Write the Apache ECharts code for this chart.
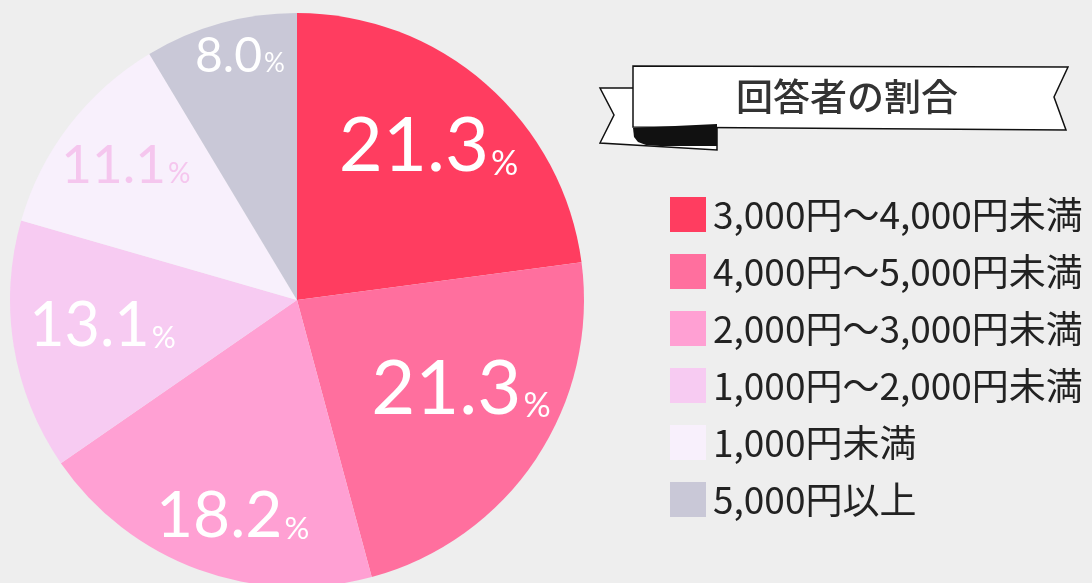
<!DOCTYPE html>
<html>
<head>
<meta charset="utf-8">
<script src="https://cdn.jsdelivr.net/npm/echarts@6/dist/echarts.min.js"></script>
<style>
  html, body { margin: 0; padding: 0; background: #eeeeee; }
  #main { width: 1092px; height: 583px; }
</style>
</head>
<body>
<div id="main"></div>
<script>
// 回答者の割合
const categories = [
  "3,000円〜4,000円未満",
  "4,000円〜5,000円未満",
  "2,000円〜3,000円未満",
  "1,000円〜2,000円未満",
  "1,000円未満",
  "5,000円以上",
];
const shares = [21.3, 21.3, 18.2, 13.1, 11.1, 8.0];

// styling
const sliceColors = ["#ff3d60", "#ff6f9e", "#ffa0d3", "#f7cbf2", "#f8f0fc", "#c9c8d7"];
const labelColors = ["#fff", "#fff", "#fff", "#fff", "#f5c6ee", "#fff"];
const numSizes = [76, 76, 64, 61, 53, 48];
const pctSizes = [34, 34, 31, 30, 28, 26];
const labelOffsets = [[35, -43], [42, 8], [-14, 79], [-50, 3], [-55, -45], [-18, -102]];

let element = document.getElementById("main");
let myChart = echarts.init(element);

let pieData = shares.map((v, i) => {
  return {
    name: categories[i],
    value: v,
    itemStyle: { color: sliceColors[i] },
    label: {
      offset: labelOffsets[i],
      rich: {
        n: {
          fontFamily: "Lato",
          fontSize: numSizes[i],
          color: labelColors[i],
          lineHeight: numSizes[i],
          verticalAlign: "bottom",
        },
        p: {
          fontFamily: "Lato",
          fontSize: pctSizes[i],
          color: labelColors[i],
          lineHeight: pctSizes[i],
          verticalAlign: "bottom",
          padding: [0, 0, 4, 2],
        },
      },
    },
  };
});

let option = {
  backgroundColor: "#eeeeee",
  animation: false,
  legend: {
    orient: "vertical",
    left: 665,
    top: 191,
    icon: "rect",
    itemWidth: 36,
    itemHeight: 35,
    itemGap: 20,
    selectedMode: false,
    data: categories,
    textStyle: {
      fontFamily: "Noto Sans CJK JP",
      fontSize: 37,
      lineHeight: 35,
      color: "#222",
      padding: [0, 0, 0, 2],
    },
  },
  graphic: [
    {
      // ribbon tail
      type: "polygon",
      shape: { points: [[600, 88], [717, 88], [717, 150], [600, 143], [614, 115]] },
      style: { fill: "#fff", stroke: "#111", lineWidth: 1.5 },
    },
    {
      type: "polygon",
      shape: { points: [[633, 66], [1068, 67], [1054, 97], [1066, 130], [633, 127]] },
      style: { fill: "#fff", stroke: "#111", lineWidth: 1.5 },
    },
    {
      // fold
      type: "polygon",
      shape: {
        points: [[633, 128], [717, 124], [717, 146], [660, 146], [646, 145], [638, 142], [634, 137]],
      },
      style: { fill: "#111" },
    },
    {
      type: "text",
      x: 847,
      y: 97,
      style: {
        text: "回答者の割合",
        fontFamily: "Noto Sans CJK JP",
        fontSize: 37,
        fontWeight: 500,
        fill: "#333",
        align: "center",
        verticalAlign: "middle",
      },
    },
  ],
  series: [
    {
      type: "pie",
      center: [297, 300],
      radius: [0, 287],
      startAngle: 90,
      clockwise: true,
      avoidLabelOverlap: false,
      emphasis: { disabled: true },
      label: {
        show: true,
        position: "inside",
        formatter: (p) => "{n|" + p.value.toFixed(1) + "}{p|%}",
      },
      labelLine: { show: false },
      data: pieData,
    },
  ],
};
myChart.setOption(option);
</script>
</body>
</html>
